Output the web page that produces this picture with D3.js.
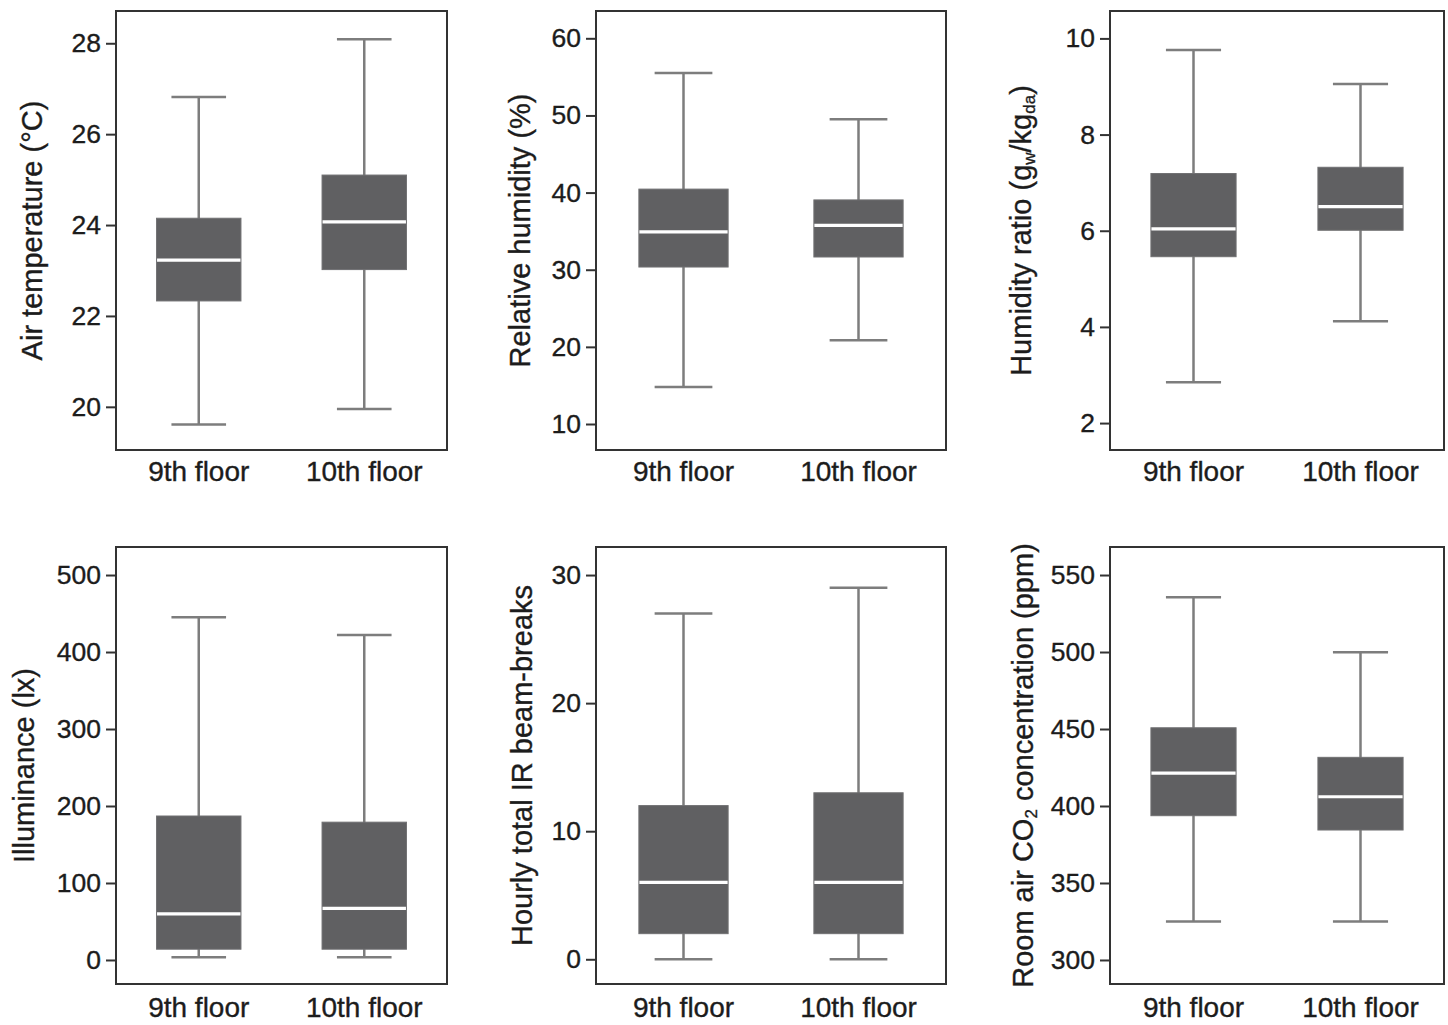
<!DOCTYPE html>
<html>
<head>
<meta charset="utf-8">
<script src="https://cdn.jsdelivr.net/npm/d3@7"></script>
<style>
  body { margin: 0; background: #fff; }
  svg { display: block; font-family: "Liberation Sans", Arial, Helvetica, sans-serif; }
  text { stroke: #1c1c1c; stroke-width: 0.35px; }
</style>
</head>
<body>
<script>
// Categorie (asse x)
const categories = ["9th floor", "10th floor"];

// Valori dei box plot: [baffo basso, Q1, mediana, Q3, baffo alto] per 9° e 10° piano
const airTemperature = [[19.61, 22.33, 23.23, 24.15, 26.82], [19.95, 23.02, 24.07, 25.10, 28.09]];
const relativeHumidity = [[14.8, 30.35, 34.9, 40.45, 55.5], [20.85, 31.65, 35.75, 39.05, 49.5]];
const humidityRatio = [[2.85, 5.46, 6.04, 7.19, 9.76], [4.12, 6.01, 6.5, 7.32, 9.05]];
const illuminance = [[3.5, 14, 60, 187, 445], [3.5, 14, 67, 179, 422]];
const beamBreaks = [[0, 2, 6, 12, 27], [0, 2, 6, 13, 29]];
const co2 = [[325, 393.7, 421.3, 450.8, 535.5], [325, 384.4, 406, 431.6, 499.8]];

// Tick dell'asse y per ogni pannello
const airTemperatureTicks = [20, 22, 24, 26, 28];
const relativeHumidityTicks = [10, 20, 30, 40, 50, 60];
const humidityRatioTicks = [2, 4, 6, 8, 10];
const illuminanceTicks = [0, 100, 200, 300, 400, 500];
const beamBreaksTicks = [0, 10, 20, 30];
const co2Ticks = [300, 350, 400, 450, 500, 550];

// Estremi dell'asse y
const airTemperatureDomain = [19.05, 28.71];
const relativeHumidityDomain = [6.63, 63.54];
const humidityRatioDomain = [1.44, 10.57];
const illuminanceDomain = [-31.2, 536.4];
const beamBreaksDomain = [-1.93, 32.19];
const co2Domain = [284.4, 568.2];

// Titoli (segmenti: testo normale o pedice)
const airTemperatureTitle = [["Air temperature (°C)"]];
const relativeHumidityTitle = [["Relative humidity (%)"]];
const humidityRatioTitle = [["Humidity ratio (g"], ["w", "sub"], ["/kg"], ["da", "sub"], [")"]];
const illuminanceTitle = [["Illuminance (lx)"]];
const beamBreaksTitle = [["Hourly total IR beam-breaks"]];
const co2Title = [["Room air CO"], ["2", "sub"], [" concentration (ppm)"]];

const panels = [
  { stats: airTemperature, ticks: airTemperatureTicks, domain: airTemperatureDomain, title: airTemperatureTitle },
  { stats: relativeHumidity, ticks: relativeHumidityTicks, domain: relativeHumidityDomain, title: relativeHumidityTitle },
  { stats: humidityRatio, ticks: humidityRatioTicks, domain: humidityRatioDomain, title: humidityRatioTitle },
  { stats: illuminance, ticks: illuminanceTicks, domain: illuminanceDomain, title: illuminanceTitle },
  { stats: beamBreaks, ticks: beamBreaksTicks, domain: beamBreaksDomain, title: beamBreaksTitle },
  { stats: co2, ticks: co2Ticks, domain: co2Domain, title: co2Title }
];

// Layout dei riquadri
const width = 1448;
const height = 1025;
const colLeft = [116, 596, 1110];
const colRight = [447, 946, 1444];
const rowTop = [11, 547];
const rowBottom = [450, 984];
const labelOffset = [31, 33];
const titleOffset = [74, 66, 79, 82, 64, 77];

const textColor = "#1c1c1c";
const frameColor = "#333333";
const boxFill = "#606062";
const whiskerColor = "#7d7d7d";

const svg = d3.create("svg")
  .attr("width", width)
  .attr("height", height);

panels.forEach((p, i) => {
  const col = i % 3;
  const row = Math.floor(i / 3);
  const x0 = colLeft[col], x1 = colRight[col];
  const y0 = rowTop[row], y1 = rowBottom[row];

  const xScale = d3.scaleBand()
    .domain(categories)
    .range([x0, x1]);

  const yScale = d3.scaleLinear()
    .domain(p.domain)
    .range([y1, y0]);

  const g = svg.append("g");

  // Box plot
  const boxW = xScale.bandwidth() * 0.51;
  const capW = xScale.bandwidth() * 0.33;

  const items = g.selectAll("g.item")
    .data(p.stats)
    .join("g")
    .attr("class", "item");

  const cx = (d, j) => xScale(categories[j]) + xScale.bandwidth() / 2;

  // baffo verticale
  items.append("line")
    .attr("x1", cx).attr("x2", cx)
    .attr("y1", d => yScale(d[0]))
    .attr("y2", d => yScale(d[4]))
    .attr("stroke", whiskerColor)
    .attr("stroke-width", 2.5);

  // cappucci
  items.append("line")
    .attr("x1", (d, j) => cx(d, j) - capW / 2)
    .attr("x2", (d, j) => cx(d, j) + capW / 2)
    .attr("y1", d => yScale(d[4]))
    .attr("y2", d => yScale(d[4]))
    .attr("stroke", whiskerColor)
    .attr("stroke-width", 2.5);
  items.append("line")
    .attr("x1", (d, j) => cx(d, j) - capW / 2)
    .attr("x2", (d, j) => cx(d, j) + capW / 2)
    .attr("y1", d => yScale(d[0]))
    .attr("y2", d => yScale(d[0]))
    .attr("stroke", whiskerColor)
    .attr("stroke-width", 2.5);

  // scatola
  items.append("rect")
    .attr("x", (d, j) => cx(d, j) - boxW / 2)
    .attr("width", boxW)
    .attr("y", d => yScale(d[3]))
    .attr("height", d => yScale(d[1]) - yScale(d[3]))
    .attr("fill", boxFill)
    .attr("stroke", "#707072")
    .attr("stroke-width", 1);

  // mediana
  items.append("line")
    .attr("x1", (d, j) => cx(d, j) - boxW / 2 + 0.5)
    .attr("x2", (d, j) => cx(d, j) + boxW / 2 - 0.5)
    .attr("y1", d => yScale(d[2]))
    .attr("y2", d => yScale(d[2]))
    .attr("stroke", "#ffffff")
    .attr("stroke-width", 3.2);

  // Asse y
  const yAxis = g.append("g")
    .attr("transform", `translate(${x0},0)`)
    .call(d3.axisLeft(yScale).tickValues(p.ticks).tickSize(10).tickPadding(5).tickFormat(d3.format("d")));
  yAxis.select(".domain").remove();
  yAxis.selectAll(".tick line").attr("stroke", frameColor).attr("stroke-width", 2);
  yAxis.selectAll(".tick text")
    .attr("fill", textColor)
    .style("font-size", "26.5px")
    .style("font-family", "'Liberation Sans', Arial, sans-serif");

  // Etichette asse x
  g.selectAll("text.xlab")
    .data(categories)
    .join("text")
    .attr("class", "xlab")
    .attr("x", d => xScale(d) + xScale.bandwidth() / 2)
    .attr("y", y1 + labelOffset[row])
    .attr("text-anchor", "middle")
    .attr("fill", textColor)
    .style("font-size", "28px")
    .text(d => d);

  // Riquadro
  g.append("rect")
    .attr("x", x0).attr("y", y0)
    .attr("width", x1 - x0).attr("height", y1 - y0)
    .attr("fill", "none")
    .attr("stroke", frameColor)
    .attr("stroke-width", 2);

  // Titolo asse y
  const tx = x0 - titleOffset[i];
  const ty = (y0 + y1) / 2;
  const title = g.append("text")
    .attr("transform", `translate(${tx},${ty}) rotate(-90)`)
    .attr("text-anchor", "middle")
    .attr("fill", textColor)
    .style("font-size", "29px");
  p.title.forEach(seg => {
    const t = title.append("tspan").text(seg[0]);
    if (seg[1] === "sub") {
      t.style("font-size", "17px").attr("baseline-shift", "-25%");
    }
  });
});

document.body.appendChild(svg.node());
</script>
</body>
</html>
